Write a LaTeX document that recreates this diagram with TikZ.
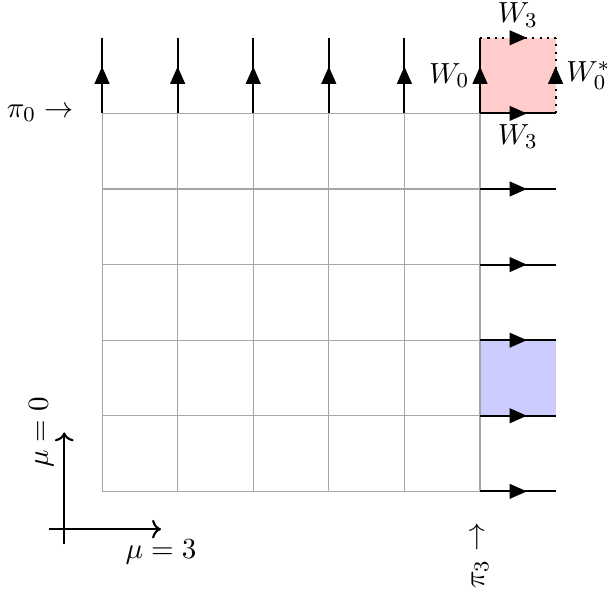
\documentclass[tikz,border=0pt,11pt]{standalone}
\usepackage{amsmath, amssymb}
\usepackage{tikz}
\usetikzlibrary{arrows.meta, decorations.markings}

\tikzset{
  link/.style={thick, postaction={decorate},
    decoration={markings, mark=at position 0.62 with {\arrow{Triangle[length=6.5pt, width=5.5pt]}}}},
}

\begin{document}
\begin{tikzpicture}[thick]
    \useasboundingbox (-1.35,-1.31) rectangle (6.68,6.5);
    % Sites
    \foreach \x in {0,...,6}
      \foreach \y in {0,...,6}
        \coordinate (s\x\y) at (\x,\y);

    % Plaquettes
    \fill[red!20] (s55) rectangle (s66);
    \fill[blue!20] (s51) rectangle (s62);

    % Grid
    \draw[gray!70, thin] (s00) grid (s55);

    % Links
    \foreach \x in {0,...,5}
      \draw[link] (s\x5) -- (s\x6);
    \foreach \y in {0,...,5}
      \draw[link] (s5\y) -- (s6\y);
    \draw[link, dotted] (s56) -- (s66);
    \draw[link, dotted] (s65) -- (s66);

    \node[above] (w3top) at (5.5,6) {$W_3$};
    \node[below] (w3bot) at (5.5,5) {$W_3$};
    \node[left] (w0) at (5,5.5) {$W_0$};
    \node[right] (w0star) at (6,5.5) {$W_0^*$};

    % Labels
    \node[anchor=east] (pi0) at (-0.24,5) {$\pi_0 \rightarrow$};
    \node[rotate=90, anchor=east] (pi3) at (5,-0.27) {$\pi_3 \rightarrow$};

    % Axes
    \coordinate (xa) at (-0.7,-0.5);
    \coordinate (xb) at (0.78,-0.5);
    \coordinate (ya) at (-0.5,-0.7);
    \coordinate (yb) at (-0.5,0.78);
    \draw[->] (xa) -- (xb);
    \draw[->] (ya) -- (yb);
    \node[below] (mu3) at (xb) {$\mu=3$};
    \node[rotate=90, anchor=south] (mu0) at (yb) {$\mu=0$};
\end{tikzpicture}
\end{document}
